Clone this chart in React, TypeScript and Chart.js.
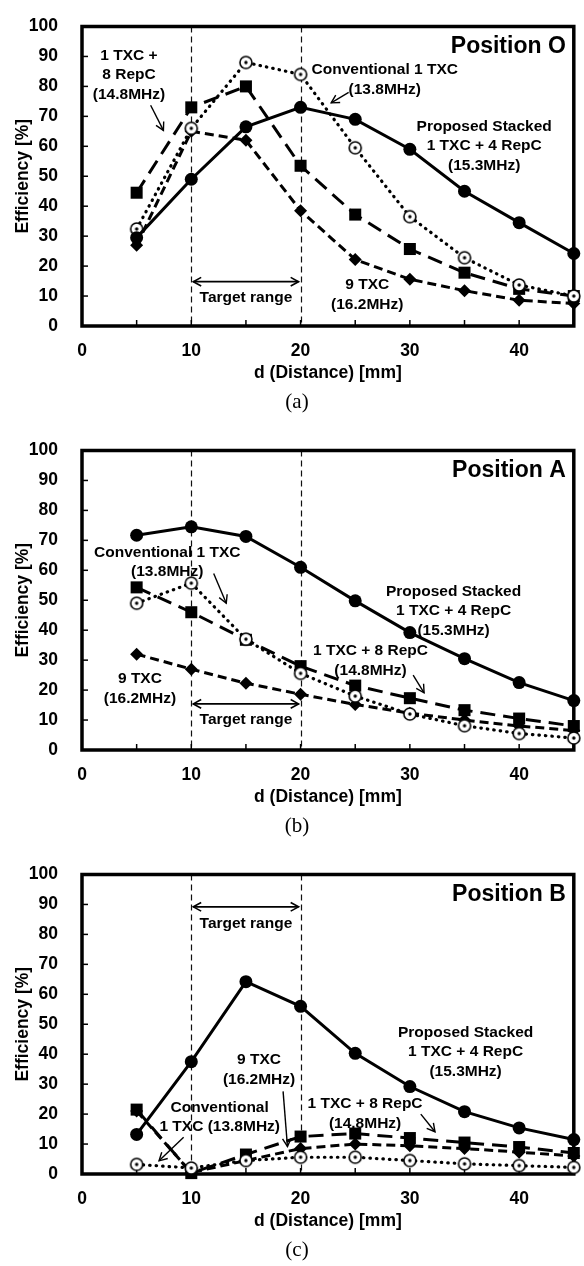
import React, { useEffect, useRef } from 'react';
import { Chart, registerables } from 'chart.js';

Chart.register(...registerables);

// ---------- data ----------
const distances = [5, 10, 15, 20, 25, 30, 35, 40, 45];
const xTickValues = [0, 10, 20, 30, 40];
const yTickValues = [0, 10, 20, 30, 40, 50, 60, 70, 80, 90, 100];
const targetRange = [10, 20];

const seriesNames = [
  'Proposed Stacked 1 TXC + 4 RepC (15.3MHz)',
  'Conventional 1 TXC (13.8MHz)',
  '1 TXC + 8 RepC (14.8MHz)',
  '9 TXC (16.2MHz)',
];

// Position O
const proposedO = [29.5, 49, 66.5, 73, 69, 59, 45, 34.5, 24.2];
const conventionalO = [32.4, 66, 88, 84, 59.5, 36.5, 22.8, 13.7, 10];
const repc8O = [44.5, 73, 80, 53.5, 37.2, 25.7, 17.8, 12.4, 10];
const txc9O = [27, 65, 62, 38.5, 22.2, 15.6, 11.8, 8.6, 7.5];

// Position A
const proposedA = [71.7, 74.5, 71.3, 61, 49.8, 39.2, 30.5, 22.5, 16.5];
const conventionalA = [49, 55.7, 37, 25.6, 18, 12, 8.1, 5.5, 4];
const repc8A = [54.3, 46, 36.8, 28, 21.5, 17.3, 13.3, 10.5, 8];
const txc9A = [32, 27, 22.3, 18.6, 15.2, 12.3, 10, 8, 6.5];

// Position B
const proposedB = [13.2, 37.5, 64.2, 56, 40.3, 29.2, 20.8, 15.4, 11.5];
const conventionalB = [3.2, 2, 4.5, 5.6, 5.6, 4.5, 3.4, 2.8, 2.2];
const repc8B = [21.5, 0.3, 6.5, 12.5, 13.5, 12, 10.5, 9, 7];
const txc9B = [21, 0.5, 4.5, 8.5, 10, 9.4, 8.5, 7.3, 6];

// ---------- annotation layouts (data coordinates) ----------
const notesO = {
  position: 'Position O',
  caption: '(a)',
  rangeY: 14.8,
  rangeTextY: 9.4,
  blocks: [
    { x: 4.3, y: 90.3, lines: ['1 TXC +', '8 RepC', '(14.8MHz)'] },
    { x: 27.7, y: 85.5, lines: ['Conventional 1 TXC', '(13.8MHz)'] },
    { x: 36.8, y: 66.7, lines: ['Proposed Stacked', '1 TXC + 4 RepC', '(15.3MHz)'] },
    { x: 26.1, y: 13.7, lines: ['9 TXC', '(16.2MHz)'] },
  ],
  arrows: [
    [6.28, 73.7, 7.45, 65.3],
    [24.4, 78, 22.8, 74.5],
  ],
};

const notesA = {
  position: 'Position A',
  caption: '(b)',
  rangeY: 15.4,
  rangeTextY: 10,
  blocks: [
    { x: 7.8, y: 66, lines: ['Conventional 1 TXC', '(13.8MHz)'] },
    { x: 34.0, y: 53, lines: ['Proposed Stacked', '1 TXC + 4 RepC', '(15.3MHz)'] },
    { x: 26.4, y: 33.1, lines: ['1 TXC + 8 RepC', '(14.8MHz)'] },
    { x: 5.3, y: 23.7, lines: ['9 TXC', '(16.2MHz)'] },
  ],
  arrows: [
    [12.05, 58.9, 13.2, 49],
    [30.3, 25, 31.3, 19.1],
  ],
};

const notesB = {
  position: 'Position B',
  caption: '(c)',
  rangeY: 89.2,
  rangeTextY: 83.7,
  blocks: [
    { x: 35.1, y: 47.2, lines: ['Proposed Stacked', '1 TXC + 4 RepC', '(15.3MHz)'] },
    { x: 16.2, y: 38, lines: ['9 TXC', '(16.2MHz)'] },
    { x: 25.9, y: 23.4, lines: ['1 TXC + 8 RepC', '(14.8MHz)'] },
    { x: 12.6, y: 22.2, lines: ['Conventional', '1 TXC (13.8MHz)'] },
  ],
  arrows: [
    [18.4, 27.6, 18.8, 9.2],
    [31.0, 20, 32.3, 14.1],
    [9.3, 12.3, 7.05, 4.4],
  ],
};

// ---------- styling ----------
const FONT = "'Liberation Sans', Arial, sans-serif";
const SERIF = "'Liberation Serif', 'Times New Roman', serif";

let ringDot: HTMLCanvasElement | null = null;
function getRingDot() {
  if (ringDot) return ringDot;
  const c = document.createElement('canvas');
  c.width = 16;
  c.height = 16;
  const g = c.getContext('2d')!;
  g.beginPath();
  g.arc(8, 8, 6, 0, Math.PI * 2);
  g.fillStyle = '#fff';
  g.fill();
  g.lineWidth = 1.6;
  g.strokeStyle = '#000';
  g.stroke();
  g.beginPath();
  g.arc(8, 8, 1.7, 0, Math.PI * 2);
  g.fillStyle = '#000';
  g.fill();
  ringDot = c;
  return c;
}

function arrowHead(ctx: CanvasRenderingContext2D, x1: number, y1: number, x2: number, y2: number, len: number) {
  const ang = Math.atan2(y2 - y1, x2 - x1);
  ctx.beginPath();
  ctx.moveTo(x2 - len * Math.cos(ang - 0.5), y2 - len * Math.sin(ang - 0.5));
  ctx.lineTo(x2, y2);
  ctx.lineTo(x2 - len * Math.cos(ang + 0.5), y2 - len * Math.sin(ang + 0.5));
  ctx.stroke();
}

const annotPlugin = {
  id: 'annot',
  beforeDatasetsDraw(chart: any, _args: any, opts: any) {
    const { ctx, chartArea: a, scales } = chart;
    const x = scales.x;
    const y = scales.y;
    ctx.save();
    // dashed target-range guides
    ctx.strokeStyle = '#111';
    ctx.lineWidth = 1.2;
    ctx.setLineDash([6, 4]);
    for (const v of targetRange) {
      const px = Math.round(x.getPixelForValue(v)) + 0.5;
      ctx.beginPath();
      ctx.moveTo(px, a.top);
      ctx.lineTo(px, a.bottom);
      ctx.stroke();
    }
    ctx.setLineDash([]);
    // inside tick marks
    ctx.strokeStyle = '#000';
    ctx.lineWidth = 1.5;
    for (let v = 5; v < 45; v += 5) {
      const px = x.getPixelForValue(v);
      ctx.beginPath();
      ctx.moveTo(px, a.bottom);
      ctx.lineTo(px, a.bottom - 6);
      ctx.stroke();
    }
    for (const v of yTickValues) {
      if (v === 0 || v === 100) continue;
      const py = y.getPixelForValue(v);
      ctx.beginPath();
      ctx.moveTo(a.left, py);
      ctx.lineTo(a.left + 6, py);
      ctx.stroke();
    }
    // frame
    ctx.lineWidth = 3.5;
    ctx.strokeRect(a.left, a.top, a.right - a.left, a.bottom - a.top);
    ctx.restore();
  },
  afterDatasetsDraw(chart: any, _args: any, opts: any) {
    const { ctx, chartArea: a, scales } = chart;
    const x = scales.x;
    const y = scales.y;
    const n = opts.notes;
    ctx.save();
    ctx.fillStyle = '#000';
    ctx.strokeStyle = '#000';
    ctx.textAlign = 'center';
    ctx.textBaseline = 'middle';
    ctx.font = `bold 15.5px ${FONT}`;
    for (const b of n.blocks) {
      const px = x.getPixelForValue(b.x);
      const py = y.getPixelForValue(b.y);
      b.lines.forEach((t: string, i: number) => ctx.fillText(t, px, py + i * 19.5));
    }
    // arrows
    ctx.lineWidth = 1.4;
    for (const [x1, y1, x2, y2] of n.arrows) {
      const p1x = x.getPixelForValue(x1), p1y = y.getPixelForValue(y1);
      const p2x = x.getPixelForValue(x2), p2y = y.getPixelForValue(y2);
      ctx.beginPath();
      ctx.moveTo(p1x, p1y);
      ctx.lineTo(p2x, p2y);
      ctx.stroke();
      arrowHead(ctx, p1x, p1y, p2x, p2y, 9);
    }
    // target range double arrow
    const rx1 = x.getPixelForValue(targetRange[0]) + 2;
    const rx2 = x.getPixelForValue(targetRange[1]) - 2;
    const ry = y.getPixelForValue(n.rangeY);
    ctx.lineWidth = 1.6;
    ctx.beginPath();
    ctx.moveTo(rx1, ry);
    ctx.lineTo(rx2, ry);
    ctx.stroke();
    arrowHead(ctx, rx2, ry, rx1, ry, 9);
    arrowHead(ctx, rx1, ry, rx2, ry, 9);
    ctx.fillText('Target range', (rx1 + rx2) / 2, y.getPixelForValue(n.rangeTextY));
    // position label
    ctx.font = `bold 23px ${FONT}`;
    ctx.textAlign = 'right';
    ctx.fillText(n.position, a.right - 8, a.top + 20);
    // caption
    ctx.font = `21px ${SERIF}`;
    ctx.textAlign = 'center';
    ctx.fillText(n.caption, 297, a.bottom + 76);
    ctx.restore();
  },
};

function makeDatasets(values: number[][]) {
  const pts = (v: number[]) => distances.map((d, i) => ({ x: d, y: v[i] }));
  return [
    {
      label: seriesNames[0],
      data: pts(values[0]),
      borderColor: '#000',
      backgroundColor: '#000',
      borderWidth: 3,
      pointStyle: 'circle',
      pointRadius: 6.5,
      pointBorderWidth: 0,
      pointBackgroundColor: '#000',
      clip: false,
    },
    {
      label: seriesNames[1],
      data: pts(values[1]),
      borderColor: '#000',
      backgroundColor: '#fff',
      borderWidth: 3.2,
      borderDash: [0.5, 6],
      borderCapStyle: 'round',
      pointStyle: getRingDot(),
      pointRadius: 7,
      clip: false,
    },
    {
      label: seriesNames[2],
      data: pts(values[2]),
      borderColor: '#000',
      backgroundColor: '#000',
      borderWidth: 3,
      borderDash: [15, 8],
      pointStyle: 'rect',
      pointRadius: 8.5,
      pointBorderWidth: 0,
      pointBackgroundColor: '#000',
      clip: false,
    },
    {
      label: seriesNames[3],
      data: pts(values[3]),
      borderColor: '#000',
      backgroundColor: '#000',
      borderWidth: 3,
      borderDash: [9, 5],
      pointStyle: 'rectRot',
      pointRadius: 6.5,
      pointBorderWidth: 0,
      pointBackgroundColor: '#000',
      clip: false,
    },
  ];
}

function EffChart({ values, notes, height }: { values: number[][]; notes: any; height: number }) {
  const ref = useRef<HTMLCanvasElement>(null);
  useEffect(() => {
    const tickFont = { family: FONT, size: 17.5, weight: 'bold' as const };
    const chart = new Chart(ref.current!, {
      type: 'line',
      data: { datasets: makeDatasets(values) as any },
      options: {
        animation: false,
        responsive: false,
        devicePixelRatio: 1,
        layout: { padding: { left: 0, right: 10, top: 13, bottom: height - 326 - 60 } },
        plugins: {
          legend: { display: false },
          tooltip: { enabled: false },
          annot: { notes },
        } as any,
        scales: {
          x: {
            type: 'linear',
            min: 0,
            max: 45,
            afterBuildTicks: (s: any) => {
              s.ticks = xTickValues.map((v) => ({ value: v }));
            },
            afterFit: (s: any) => {
              s.height = 60;
            },
            grid: { display: false },
            border: { display: false },
            ticks: { font: tickFont, color: '#000', padding: 7, maxRotation: 0 },
            title: {
              display: true,
              text: 'd (Distance) [mm]',
              font: tickFont,
              color: '#000',
              padding: { top: 0, bottom: 2.5 },
            },
          },
          y: {
            type: 'linear',
            min: 0,
            max: 100,
            afterBuildTicks: (s: any) => {
              s.ticks = yTickValues.map((v) => ({ value: v }));
            },
            afterFit: (s: any) => {
              s.width = 82;
            },
            grid: { display: false },
            border: { display: false },
            ticks: { font: tickFont, color: '#000', padding: 16 },
            title: {
              display: true,
              text: 'Efficiency [%]',
              font: tickFont,
              color: '#000',
              padding: { top: 12.5, bottom: 0 },
            },
          },
        },
      },
      plugins: [annotPlugin],
    } as any);
    return () => chart.destroy();
  }, []);
  return (
    <canvas
      ref={ref}
      width={584}
      height={height}
      style={{ display: 'block', width: 584, height }}
    />
  );
}

export default function App() {
  useEffect(() => {
    document.body.style.margin = '0';
    document.body.style.background = '#fff';
  }, []);
  return (
    <div style={{ width: 584, height: 1266, overflow: 'hidden', background: '#fff' }}>
      <EffChart values={[proposedO, conventionalO, repc8O, txc9O]} notes={notesO} height={424} />
      <EffChart values={[proposedA, conventionalA, repc8A, txc9A]} notes={notesA} height={424} />
      <EffChart values={[proposedB, conventionalB, repc8B, txc9B]} notes={notesB} height={418} />
    </div>
  );
}
